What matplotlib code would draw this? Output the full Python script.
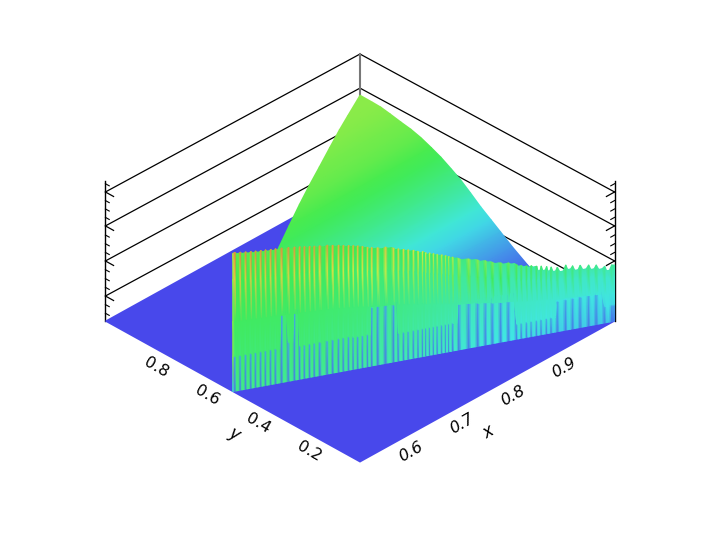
import numpy as np
import matplotlib
matplotlib.use("Agg")
import matplotlib.pyplot as plt
from matplotlib.colors import LinearSegmentedColormap
from mpl_toolkits.mplot3d import proj3d

# back surface: z only changes with y, x runs from the edge of the triangle to 1
surf_y = [1.0, 0.95, 0.918, 0.88, 0.839, 0.8, 0.761, 0.72, 0.682, 0.64, 0.604, 0.565, 0.525, 0.485, 0.447, 0.4, 0.341, 0.3, 0.27]
surf_z = [0.607, 0.606, 0.604, 0.592, 0.577, 0.565, 0.545, 0.515, 0.484, 0.44, 0.40, 0.345, 0.286, 0.235, 0.186, 0.125, 0.057, 0.02, 0.0]

# front wall along y = 1 - x: spike position, spike height, height of the blue part
wall_x = [0.503, 0.510, 0.517, 0.524, 0.530, 0.537, 0.543, 0.550, 0.556, 0.564, 0.573, 0.581, 0.588, 0.594,
          0.601, 0.607, 0.614, 0.624, 0.631, 0.639, 0.645, 0.652, 0.658, 0.664, 0.670, 0.677, 0.682, 0.690,
          0.700, 0.711, 0.717, 0.724, 0.730, 0.737, 0.743, 0.749, 0.753, 0.758, 0.763, 0.768, 0.774, 0.779,
          0.783, 0.788, 0.796, 0.809, 0.821, 0.831, 0.840, 0.851, 0.861, 0.872, 0.878, 0.885, 0.891, 0.898,
          0.904, 0.911, 0.917, 0.925, 0.936, 0.945, 0.955, 0.966, 0.976, 0.987, 0.996]
wall_top = [0.99, 0.985, 0.98, 0.976, 0.973, 0.97, 0.968, 0.965, 0.963, 0.96, 0.955, 0.95, 0.945, 0.94,
            0.935, 0.93, 0.925, 0.92, 0.912, 0.905, 0.897, 0.89, 0.883, 0.875, 0.865, 0.85, 0.845, 0.835,
            0.83, 0.81, 0.80, 0.79, 0.78, 0.77, 0.755, 0.75, 0.735, 0.73, 0.72, 0.71, 0.70, 0.69,
            0.68, 0.67, 0.65, 0.635, 0.615, 0.60, 0.58, 0.565, 0.555, 0.53, 0.52, 0.51, 0.505, 0.495,
            0.49, 0.48, 0.47, 0.46, 0.465, 0.45, 0.445, 0.435, 0.425, 0.405, 0.405]
wall_low = [0.24, 0.24, 0.24, 0.24, 0.24, 0.24, 0.24, 0.24, 0.24, 0.49, 0.27, 0.49, 0.23, 0.23,
            0.23, 0.23, 0.23, 0.23, 0.23, 0.23, 0.23, 0.23, 0.22, 0.22, 0.22, 0.22, 0.41, 0.41,
            0.41, 0.41, 0.19, 0.19, 0.19, 0.19, 0.19, 0.19, 0.19, 0.19, 0.19, 0.19, 0.19, 0.19,
            0.19, 0.19, 0.32, 0.32, 0.32, 0.32, 0.32, 0.32, 0.32, 0.10, 0.10, 0.10, 0.10, 0.10,
            0.10, 0.10, 0.10, 0.21, 0.21, 0.21, 0.21, 0.21, 0.21, 0.11, 0.11]

x_ticks = [0.6, 0.7, 0.8, 0.9]
y_ticks = [0.2, 0.4, 0.6, 0.8]
z_major = [0.179, 0.429, 0.679, 0.921]
z_major_back = [0.157, 0.407, 0.657, 0.9]
z_minor = [0.056, 0.118, 0.241, 0.303, 0.367, 0.49, 0.552, 0.614, 0.74, 0.80, 0.86, 0.98]

cmap = LinearSegmentedColormap.from_list("wall", [(0.0, (72/255, 72/255, 235/255)),
                                                  (0.26, (64/255, 230/255, 230/255)),
                                                  (0.5, (64/255, 235/255, 80/255)),
                                                  (0.75, (235/255, 235/255, 64/255)),
                                                  (1.0, (245/255, 120/255, 60/255))])

fig = plt.figure(figsize=(7.2, 5.4), dpi=100)
ax = fig.add_axes([0, 0, 1, 1], projection="3d", proj_type="ortho")
ax.view_init(elev=33.6, azim=-135)
ax.set_xlim(0.5, 1, view_margin=0)
ax.set_ylim(0, 1, view_margin=0)
ax.set_zlim(0, 1, view_margin=0)
ax.set_axis_off()


def to_px(xs, ys, zs):
    px, py, _ = proj3d.proj_transform(np.asarray(xs, float), np.asarray(ys, float), np.asarray(zs, float), ax.get_proj())
    return ax.transData.transform(np.column_stack([px, py]))


# fit the box onto the reference corners (pixels with y up)
zoom, zr = 1.0, 0.7
for i in range(5):
    ax.set_box_aspect((1, 1, zr), zoom=zoom)
    fig.canvas.draw()
    c = to_px([0.5, 1, 0.5, 0.5], [1, 0, 0, 1], [0, 0, 0, 1])
    zoom *= 509 / (c[1, 0] - c[0, 0])
    zr *= 140 / (c[3, 1] - c[0, 1])
ax.set_box_aspect((1, 1, zr), zoom=zoom)
fig.canvas.draw()
c = to_px([0.5], [0], [0])[0]
ax.set_position([(360 - c[0]) / 720, (78 - c[1]) / 540, 1, 1])
fig.canvas.draw()

# walls behind the data
for z, zb in zip(z_major, z_major_back):
    ax.plot([0.5, 1, 1], [1, 1, 0], [z, zb, z], color="black", lw=0.9)
    ax.plot([0.5, 0.5], [1, 0.968], [z, z], color="black", lw=0.9)
    ax.plot([1, 0.984], [0, 0], [z, z], color="black", lw=0.9)
for z in z_minor:
    ax.plot([0.5, 0.5], [1, 0.985], [z, z], color="black", lw=0.8)
    ax.plot([1, 0.9925], [0, 0], [z, z], color="black", lw=0.8)
ax.plot([0.5, 0.5], [1, 1], [0, 1], color="black", lw=1.0)
ax.plot([1, 1], [0, 0], [0, 1], color="black", lw=1.0)
ax.plot([1, 1], [1, 1], [0, 0.9], color="#777777", lw=1.5)

ov = fig.add_axes([0, 0, 1, 1])
ov.set_xlim(0, 720)
ov.set_ylim(0, 540)
ov.axis("off")
ov.patch.set_alpha(0)

# floor
p = to_px([0.5, 1, 1, 0.5], [0, 0, 1, 1], [0, 0, 0, 0])
ov.tripcolor(p[:, 0], p[:, 1], [[0, 1, 2], [0, 2, 3]], [0, 0, 0, 0], cmap=cmap, vmin=0, vmax=1, shading="gouraud")

# back surface
sy = np.array(surf_y)
sz = np.array(surf_z)
left = np.maximum(sy, 1 - sy)
p = to_px(np.r_[left, np.ones(len(sy))], np.r_[sy, sy], np.r_[sz, sz])
n = len(sy)
tri = []
for i in range(n - 1):
    tri += [[i, i + 1, n + i], [i + 1, n + i + 1, n + i]]
ov.tripcolor(p[:, 0], p[:, 1], tri, np.r_[sz, sz], cmap=cmap, vmin=0, vmax=1, shading="gouraud")

# front wall: each spike is a narrow column, the rest of its width is the flat green gap
vx, vz, vc = [], [], []
cols = []
for i in range(len(wall_x)):
    top, low = wall_top[i], wall_low[i]
    g = 0.14 + 0.34 * top
    cols.append((wall_x[i], [0, low, low + 0.012, top * 0.5, top * 0.8, top],
                 [0.08, 0.15, g - 0.04, g, g + (top - g) * 0.7, top]))
    if i < len(wall_x) - 1:
        gap = 0.012 if top > 0.5 else 0.035
        d = wall_x[i + 1] - wall_x[i]
        for f in (0.3, 0.7):
            cols.append((wall_x[i] + f * d, [0, low, low + 0.012, top * 0.5, top * 0.8, top - gap],
                         [g - 0.07, g - 0.02, g - 0.02, g, g + 0.02, g + 0.06]))
cols.insert(0, (0.5, [0, 0.24, 0.252, 0.5, 0.8, 0.985], [0.3, 0.58, 0.6, 0.6, 0.62, 0.65]))
cols.append((1.0, [0, 0.11, 0.122, 0.2, 0.32, 0.40], [0.08, 0.15, 0.24, 0.27, 0.3, 0.36]))
for cx, hs, cs in cols:
    vx += [cx] * len(hs)
    vz += hs
    vc += cs
vx = np.array(vx)
p = to_px(vx, 1 - vx, vz)
tri = []
for j in range(len(cols) - 1):
    for k in range(5):
        a = j * 6 + k
        tri += [[a, a + 1, a + 6], [a + 1, a + 7, a + 6]]
ov.tripcolor(p[:, 0], p[:, 1], tri, vc, cmap=cmap, vmin=0, vmax=1, shading="gouraud")

# tick labels hang 18 px under the floor edge
for t in x_ticks:
    q = to_px([t], [0], [0])[0]
    ov.text(q[0], q[1] - 18, f"{t:.1f}", rotation=30, style="italic", fontsize=11.5, ha="center", va="center")
for t in y_ticks:
    q = to_px([0.5], [t], [0])[0]
    ov.text(q[0], q[1] - 18, f"{t:.1f}", rotation=-30, fontsize=11.5, ha="center", va="center")
q = to_px([0.75], [0], [0])[0]
ov.text(q[0] + 1, q[1] - 41, "x", rotation=30, style="italic", fontsize=12, ha="center", va="center")
q = to_px([0.5], [0.5], [0])[0]
ov.text(q[0] + 1, q[1] - 42, "y", rotation=-30, style="italic", fontsize=12, ha="center", va="center")

fig.savefig("out.png", dpi=100)
